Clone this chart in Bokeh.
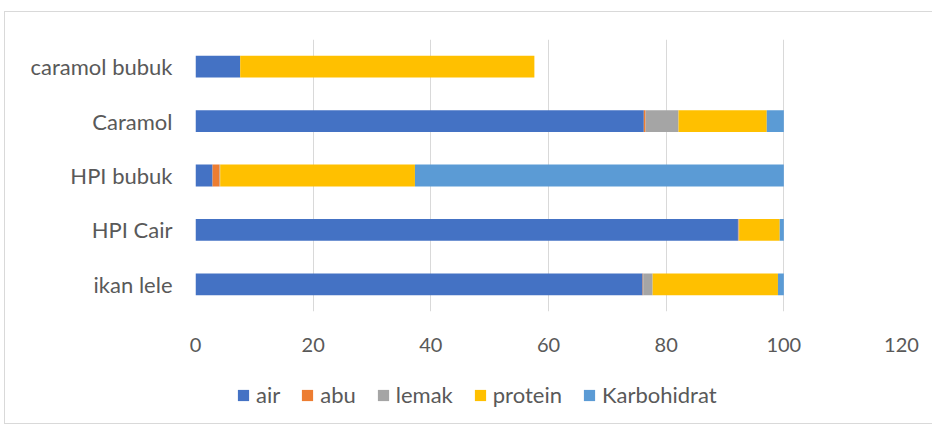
from bokeh.plotting import figure
from bokeh.layouts import column
from bokeh.models import Legend, LegendItem, FixedTicker, ColumnDataSource
from bokeh.embed import file_html
from bokeh.resources import INLINE

categories = ["ikan lele", "HPI Cair", "HPI bubuk", "Caramol", "caramol bubuk"]
series = ["air", "abu", "lemak", "protein", "Karbohidrat"]
air = [76.0, 92.2, 2.9, 76.2, 7.6]
abu = [0.1, 0.1, 1.2, 0.3, 0.0]
lemak = [1.6, 0.1, 0.1, 5.6, 0.0]
protein = [21.3, 6.9, 33.1, 15.0, 50.0]
karbohidrat = [1.0, 0.7, 62.7, 2.9, 0.0]
colors = ["#4472C4", "#ED7D31", "#A5A5A5", "#FFC000", "#5B9BD5"]
x_ticks = [0, 20, 40, 60, 80, 100, 120]

FONT = "Lato"
GREY = "#595959"
FS_TICK = "20px"
FS_TEXT = "22px"

source = ColumnDataSource(dict(cat=categories, air=air, abu=abu, lemak=lemak,
                               protein=protein, Karbohidrat=karbohidrat))

p = figure(y_range=categories, x_range=(0, 120), width=927, height=349,
           frame_width=706, frame_height=272,
           min_border_left=190, min_border_right=31, min_border_top=27, min_border_bottom=50,
           output_backend="svg", toolbar_location=None)

p.hbar_stack(series, y="cat", height=0.4, color=colors, source=source, line_color=None)

p.xaxis.ticker = FixedTicker(ticks=x_ticks)
p.xaxis.axis_line_color = None
p.xaxis.major_tick_line_color = None
p.xaxis.minor_tick_line_color = None
p.xaxis.major_label_standoff = 20
p.xaxis.major_label_text_font = FONT
p.xaxis.major_label_text_font_size = FS_TICK
p.xaxis.major_label_text_color = GREY

p.yaxis.axis_line_color = None
p.yaxis.major_tick_line_color = None
p.yaxis.minor_tick_line_color = None
p.yaxis.major_label_standoff = 17
p.yaxis.major_label_text_font = FONT
p.yaxis.major_label_text_font_size = FS_TEXT
p.yaxis.major_label_text_color = GREY

p.ygrid.grid_line_color = None
p.xgrid.grid_line_color = "#d9d9d9"
p.xgrid.ticker = FixedTicker(ticks=x_ticks)
p.outline_line_color = None
p.y_range.range_padding = 0

# legend strip (same series, renderers hidden; only the legend shows)
p2 = figure(width=927, height=62, y_range=categories, x_range=(0, 120),
            min_border_left=0, min_border_right=0, min_border_top=0, min_border_bottom=0,
            output_backend="svg", toolbar_location=None)
p2.axis.visible = False
p2.grid.grid_line_color = None
p2.outline_line_color = None

rs = p2.hbar_stack(series, y="cat", height=0.4, color=colors, source=source, line_color=None)
for r in rs:
    r.visible = False
items = [LegendItem(label=s, renderers=[r]) for s, r in zip(series, rs)]

legend = Legend(items=items, orientation="horizontal", location=(41, 15),
                label_text_font=FONT, label_text_font_size=FS_TEXT,
                label_text_color=GREY, glyph_width=14, glyph_height=14,
                label_standoff=6, spacing=20, padding=0, margin=0,
                border_line_color=None, background_fill_alpha=0)
p2.add_layout(legend, "center")

layout = column(p, p2, spacing=0)
layout.styles = {"border-left": "1px solid #d9d9d9", "border-top": "1px solid #d9d9d9",
                 "border-bottom": "1px solid #d9d9d9", "margin-left": "4px", "margin-top": "11px"}

open("out.html", "w").write(file_html(layout, INLINE))
